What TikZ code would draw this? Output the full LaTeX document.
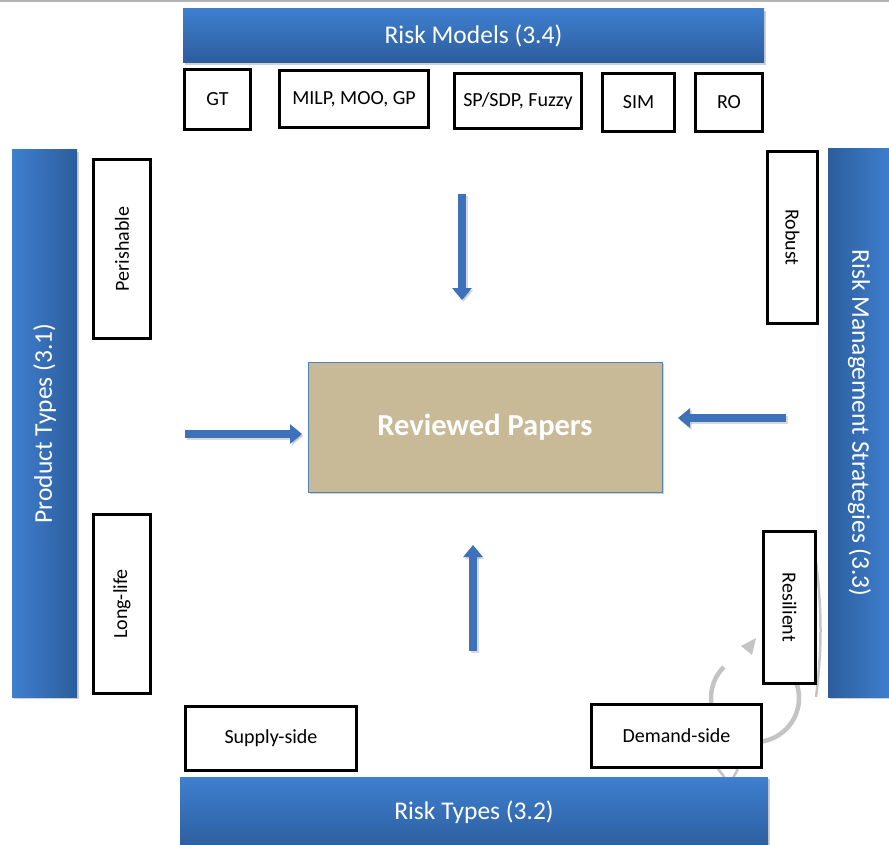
\documentclass[tikz,border=0pt]{standalone}
\usepackage{fontspec}
\setmainfont{Carlito}
\usetikzlibrary{arrows.meta,shadows}
\definecolor{barlight}{HTML}{3F7FCF}
\definecolor{bardark}{HTML}{2C5D9C}
\definecolor{paper}{HTML}{C8BA96}
\definecolor{paperedge}{HTML}{4F81BD}
\definecolor{arrowblue}{HTML}{3D72BB}
\definecolor{markgrey}{HTML}{C4C4C4}
\definecolor{topline}{HTML}{B3B3B3}
\tikzset{
  barbox/.style={rectangle, inner sep=0pt, text=white,
    font=\fontsize{25.5}{30}\selectfont,
    drop shadow={shadow xshift=1.5pt, shadow yshift=-2pt, opacity=0.3, fill=black!60}},
  hbar/.style={barbox, top color=barlight, bottom color=bardark},
  barlabel/.style={text=white, font=\fontsize{25.5}{30}\selectfont},
  catbox/.style={rectangle, draw=black, line width=3pt, fill=white, inner sep=0pt,
    font=\fontsize{20}{24}\selectfont},
  catlabel/.style={font=\fontsize{20}{24}\selectfont},
  paperbox/.style={rectangle, draw=paperedge, line width=1pt, fill=paper, inner sep=0pt,
    text=white, font=\bfseries\fontsize{30.5}{36}\selectfont,
    drop shadow={shadow xshift=1.5pt, shadow yshift=-2pt, opacity=0.3, fill=black!60}},
  flowarrow/.style={draw=arrowblue, line width=8pt,
    -{Triangle[length=12pt,width=19pt]}},
  flowshadow/.style={draw=black, opacity=0.15, line width=8pt,
    -{Triangle[length=12pt,width=19pt]}},
  markarc/.style={draw=markgrey, line width=4.5pt}
}
\begin{document}
\begin{tikzpicture}[x=1pt,y=-1pt]
\useasboundingbox (0,0) rectangle (889,845);
\fill[topline] (0,0) rectangle (889,2.5);

% faint grey mark behind boxes (bottom right)
\draw[markarc] (755,698) ++(225:44) arc[start angle=225,end angle=-20,radius=44];
\fill[markgrey] (741,646) -- (756,638) -- (752,655) -- cycle;
\draw[markgrey, line width=2.5pt] (816,562) .. controls (822,610) and (822,650) .. (816,697);
\draw[markgrey, line width=2.5pt] (718,769) -- (725,778);
\draw[markgrey, line width=2.5pt] (738,769) -- (733,778);

% bars
\node[hbar, minimum width=581pt, minimum height=54pt] (models) at (473.5,36) {Risk Models (3.4)};
\node[barbox, left color=barlight, right color=bardark, minimum width=65pt, minimum height=547pt] (product) at (44.5,423.5) {};
\node[barlabel, rotate=90] (productlbl) at (product.center) {Product Types (3.1)};
\node[barbox, left color=bardark, right color=barlight, minimum width=63pt, minimum height=548pt] (strat) at (859.5,423) {};
\node[barlabel, rotate=-90] (stratlbl) at (strat.center) {Risk Management Strategies (3.3)};
\node[hbar, minimum width=588pt, minimum height=75pt] (types) at (474,814.5) {};
\node[barlabel] (typeslbl) at (474,812) {Risk Types (3.2)};

% top category boxes
\node[catbox, minimum width=66pt, minimum height=60pt] (gt) at (217.5,99.5) {GT};
\node[catbox, minimum width=149pt, minimum height=57pt] (milp) at (354,99) {MILP, MOO, GP};
\node[catbox, minimum width=127pt, minimum height=55pt] (sp) at (518,101) {SP/SDP, Fuzzy};
\node[catbox, minimum width=72pt, minimum height=58pt] (sim) at (638.5,102.5) {SIM};
\node[catbox, minimum width=67pt, minimum height=58pt] (ro) at (729,102.5) {RO};

% left boxes
\node[catbox, minimum width=57pt, minimum height=179pt] (perish) at (122,249) {};
\node[catlabel, rotate=90] (perishlbl) at (perish.center) {Perishable};
\node[catbox, minimum width=57pt, minimum height=179pt] (long) at (122,604) {};
\node[catlabel, rotate=90] (longlbl) at (long.center) {Long-life};

% right boxes
\node[catbox, minimum width=50pt, minimum height=172pt] (robust) at (792.5,237.5) {};
\node[catlabel, rotate=-90] (robustlbl) at (robust.center) {Robust};
\node[catbox, minimum width=52pt, minimum height=152pt] (resil) at (789.5,607.5) {};
\node[catlabel, rotate=-90] (resillbl) at (resil.center) {Resilient};

% bottom boxes
\node[catbox, minimum width=171pt, minimum height=64pt] (supply) at (271,738.5) {Supply-side};
\node[catbox, minimum width=170pt, minimum height=63pt] (demand) at (676.5,736) {Demand-side};

% centre
\node[paperbox, minimum width=354pt, minimum height=130pt] (papers) at (485,427) {Reviewed Papers};

% arrows
\coordinate (dtail) at (462,194); \coordinate (dtip) at (462,300);
\coordinate (rtail) at (185,434); \coordinate (rtip) at (302,434);
\coordinate (ltail) at (786,418); \coordinate (ltip) at (678,418);
\coordinate (utail) at (473,651); \coordinate (utip) at (473,545);
\foreach \a/\b in {dtail/dtip, rtail/rtip, ltail/ltip, utail/utip}{
  \draw[flowshadow, transform canvas={shift={(1.5pt,-2pt)}}] (\a) -- (\b);
  \draw[flowarrow] (\a) -- (\b);
}
\end{tikzpicture}
\end{document}
